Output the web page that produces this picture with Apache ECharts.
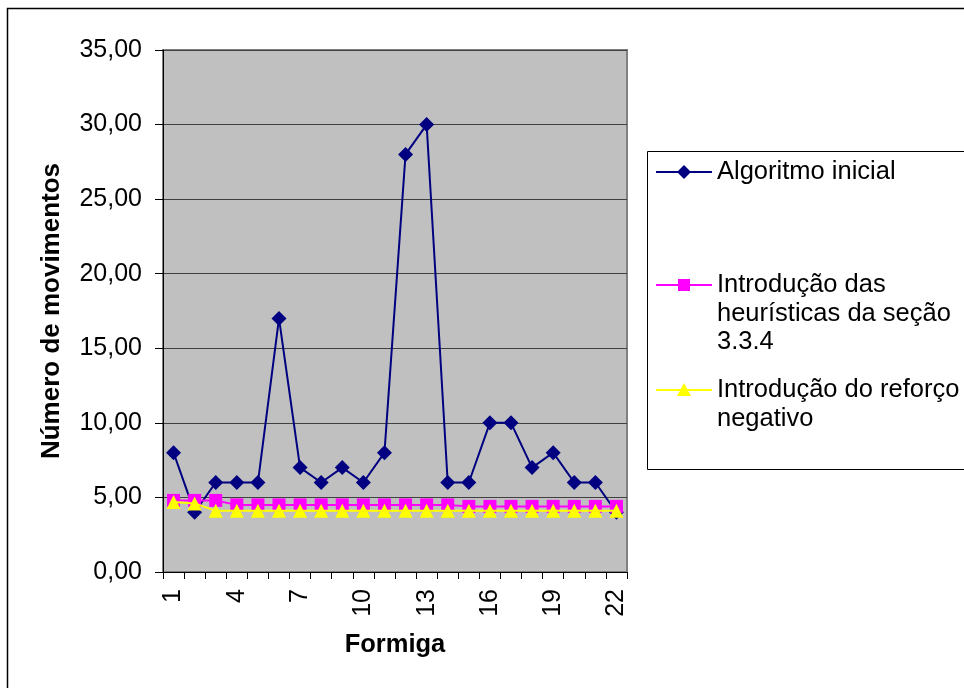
<!DOCTYPE html>
<html>
<head>
<meta charset="utf-8">
<script src="https://cdn.jsdelivr.net/npm/echarts@6/dist/echarts.min.js"></script>
<style>
html,body{margin:0;padding:0;background:#fff;}
#c{width:964px;height:688px;}
</style>
</head>
<body>
<div id="c"></div>
<script>
var categories = ['1','2','3','4','5','6','7','8','9','10','11','12','13','14','15','16','17','18','19','20','21','22'];
var seriesNames = ['Algoritmo inicial', 'Introdução das\nheurísticas da seção\n3.3.4', 'Introdução do reforço\nnegativo'];
var algoritmoInicial = [8, 4, 6, 6, 6, 17, 7, 6, 7, 6, 8, 28, 30, 6, 6, 10, 10, 7, 8, 6, 6, 4];
var heuristicas = [4.8, 4.8, 4.8, 4.5, 4.5, 4.5, 4.5, 4.5, 4.5, 4.5, 4.5, 4.5, 4.5, 4.5, 4.4, 4.4, 4.4, 4.4, 4.4, 4.4, 4.4, 4.4];
var reforcoNegativo = [4.7, 4.6, 4.1, 4.1, 4.1, 4.1, 4.1, 4.1, 4.1, 4.1, 4.1, 4.1, 4.1, 4.1, 4.1, 4.1, 4.1, 4.1, 4.1, 4.1, 4.1, 4.1];
var yTicks = {min: 0, max: 35, interval: 5};
var colors = ['#000080', '#ff00ff', '#ffff00'];

var FONT = '"Liberation Sans", Arial, sans-serif';
var chart = echarts.init(document.getElementById('c'), null, {renderer: 'canvas'});

// legend drawn with graphic elements
var legendItems = [
  {y: 172, sym: 'diamond'},
  {y: 285, sym: 'rect'},
  {y: 390, sym: 'triangle'}
];
var g = [];
g.push({type: 'rect', shape: {x: 7.5, y: 8.5, width: 1100, height: 1100}, style: {fill: 'none', stroke: '#000', lineWidth: 1.5}, silent: true});
g.push({type: 'rect', shape: {x: 647.5, y: 151.5, width: 400, height: 318}, style: {fill: '#fff', stroke: '#000', lineWidth: 1}, silent: true});
legendItems.forEach(function (it, i) {
  var cx = 684, cy = it.y;
  g.push({type: 'line', shape: {x1: 656, y1: cy, x2: 712, y2: cy}, style: {stroke: colors[i], lineWidth: 2}, z: 10});
  if (it.sym === 'diamond') {
    g.push({type: 'polygon', shape: {points: [[cx, cy - 7], [cx + 7, cy], [cx, cy + 7], [cx - 7, cy]]}, style: {fill: colors[i]}, z: 11});
  } else if (it.sym === 'rect') {
    g.push({type: 'rect', shape: {x: cx - 6, y: cy - 6, width: 12, height: 12}, style: {fill: colors[i]}, z: 11});
  } else {
    g.push({type: 'polygon', shape: {points: [[cx, cy - 7], [cx + 7, cy + 6], [cx - 7, cy + 6]]}, style: {fill: colors[i]}, z: 11});
  }
  g.push({type: 'text', x: 717, y: cy, style: {text: seriesNames[i], font: '25.5px ' + FONT, fill: '#000', verticalAlign: 'top', lineHeight: 28.5, y: -14}, z: 11});
});

chart.setOption({
  animation: false,
  backgroundColor: '#fff',
  grid: {left: 163, right: 337, top: 50, bottom: 116, show: true, backgroundColor: '#c0c0c0', borderColor: '#808080', borderWidth: 2, containLabel: false},
  xAxis: {
    type: 'category',
    data: categories,
    boundaryGap: true,
    name: 'Formiga',
    nameLocation: 'middle',
    nameGap: 60,
    nameTextStyle: {fontFamily: FONT, fontSize: 25.5, fontWeight: 'bold', color: '#000'},
    axisLine: {show: true, lineStyle: {color: '#000', width: 1}},
    axisTick: {show: true, interval: 0, length: 7, lineStyle: {color: '#000'}},
    axisLabel: {interval: 2, rotate: 90, margin: 17, fontFamily: FONT, fontSize: 25, color: '#000'},
    splitLine: {show: false}
  },
  yAxis: {
    type: 'value',
    min: yTicks.min, max: yTicks.max, interval: yTicks.interval,
    name: 'Número de movimentos',
    nameLocation: 'middle',
    nameGap: 98,
    nameTextStyle: {fontFamily: FONT, fontSize: 26, fontWeight: 'bold', color: '#000'},
    axisLine: {show: true, lineStyle: {color: '#000', width: 1}},
    axisTick: {show: true, length: 8, lineStyle: {color: '#000'}},
    axisLabel: {margin: 21, fontFamily: FONT, fontSize: 25, color: '#000', formatter: function (v) { return v.toFixed(2).replace('.', ','); }},
    splitLine: {show: true, lineStyle: {color: '#404040', width: 1}}
  },
  series: [
    {name: seriesNames[0], type: 'line', data: algoritmoInicial, symbol: 'diamond', symbolSize: 15, showAllSymbol: true, color: colors[0], lineStyle: {color: colors[0], width: 2}, itemStyle: {color: colors[0]}, z: 3},
    {name: seriesNames[1], type: 'line', data: heuristicas, symbol: 'rect', symbolSize: 13, showAllSymbol: true, color: colors[1], lineStyle: {color: colors[1], width: 2}, itemStyle: {color: colors[1]}, z: 4},
    {name: seriesNames[2], type: 'line', data: reforcoNegativo, symbol: 'triangle', symbolSize: 14, showAllSymbol: true, color: colors[2], lineStyle: {color: colors[2], width: 2}, itemStyle: {color: colors[2]}, z: 5}
  ],
  graphic: g
});
</script>
</body>
</html>
